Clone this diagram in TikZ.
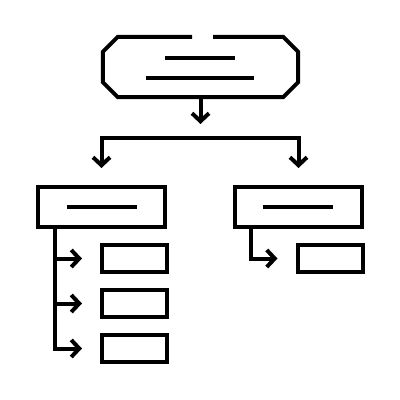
\documentclass[tikz,border=0pt]{standalone}
\usetikzlibrary{arrows.meta, positioning}

\begin{document}
\begin{tikzpicture}[x=1pt,y=-1pt]

\tikzset{box/.style = {shape=rectangle,draw,line width=4pt,minimum width=127pt,minimum height=40pt,inner sep=0pt}}
\tikzset{leaf/.style = {shape=rectangle,draw,line width=4pt,minimum width=65pt,minimum height=27pt,inner sep=0pt}}
\tikzset{bar/.style = {line width=4pt}}
\tikzset{edge/.style = {line width=4pt,-{Straight Barb[length=8pt,width=17pt]}}}
\useasboundingbox (0,0) rectangle (400,400);
% vertices
\node (top) at (200.5,67) [minimum width=195pt, minimum height=60pt, inner sep=0pt] {};
\node[box] (lbox) at (101.5,207) {};
\node[box] (rbox) at (298.5,207) {};
\node[leaf] (leaf1) at (134.5,258.5) {};
\node[leaf] (leaf2) at (134.5,303.5) {};
\node[leaf] (leaf3) at (134.5,348.5) {};
\node[leaf] (rleaf) at (330,258.5) {};
\coordinate (split) at (200.5,124);
\coordinate (fork) at (200.5,138);
\coordinate (ltrunk) at (55,0);
\coordinate (rtrunk) at (251,0);
% top box with gap
\draw[bar] ([xshift=12.5pt]top.north) -- ([xshift=-15pt]top.north east) -- ([yshift=-15pt]top.north east)
  -- ([yshift=15pt]top.south east) -- ([xshift=-15pt]top.south east) -- ([xshift=15pt]top.south west)
  -- ([yshift=15pt]top.south west) -- ([yshift=-15pt]top.north west) -- ([xshift=15pt]top.north west)
  -- ([xshift=-8.5pt]top.north);
% text lines
\draw[bar] (165,58) -- (235,58);
\draw[bar] (146,78) -- (254,78);
\draw[bar] (67,207) -- (137,207);
\draw[bar] (263,207) -- (333,207);
%edges
\draw[edge] (top.south) -- (split);
\draw[edge, shorten >=17pt] (fork) -| (lbox);
\draw[edge, shorten >=17pt] (fork) -| (rbox);
\draw[edge, shorten >=18pt] (ltrunk |- lbox.south) |- (leaf3);
\draw[edge, shorten >=18pt] (ltrunk |- leaf1) -- (leaf1);
\draw[edge, shorten >=18pt] (ltrunk |- leaf2) -- (leaf2);
\draw[edge, shorten >=18pt] (rtrunk |- rbox.south) |- (rleaf);
\end{tikzpicture}
\end{document}
